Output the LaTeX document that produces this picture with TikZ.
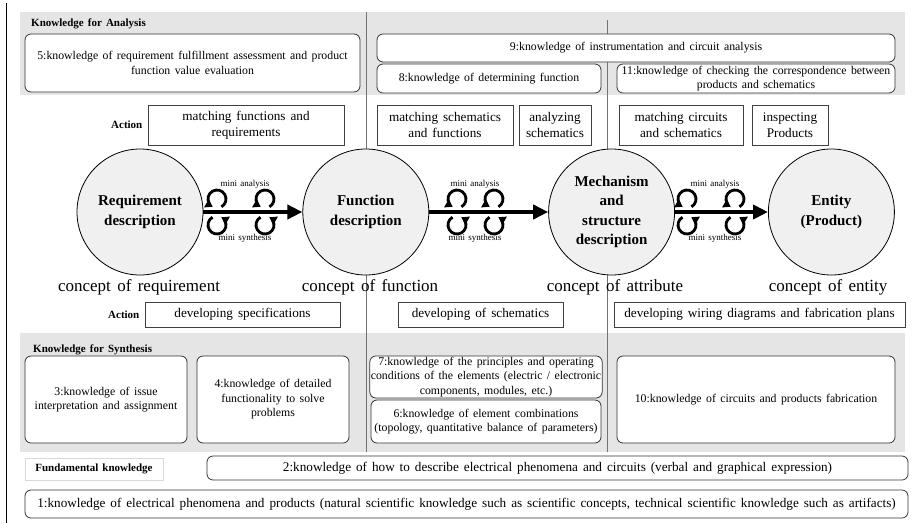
\documentclass[tikz,border=0pt]{standalone}
\usepackage{fontspec}
\setmainfont{Liberation Serif}[WordSpace=1.5]
\usetikzlibrary{positioning,arrows.meta}

\newcommand{\fsz}[2]{\fontsize{#1}{#2}\selectfont}

\tikzset{
band/.style={fill=black!10},
divider/.style={draw=black!55, line width=0.6pt},
knowbox/.style={draw=black!80, line width=0.8pt, rounded corners=6pt, fill=white, align=center, inner sep=1pt, font=\fsz{11.8}{14.5}},
basebox/.style={knowbox, font=\fsz{13.2}{16}},
actbox/.style={draw=black!75, line width=0.9pt, fill=white, align=center, inner sep=1pt, font=\fsz{13.2}{16}},
conceptnode/.style={circle, draw=black, line width=0.8pt, fill=black!6, minimum size=126pt, inner sep=0pt, align=center, font=\bfseries\fsz{15}{19.5}},
heading/.style={font=\bfseries\fsz{11}{13}, inner sep=0pt},
conceptlabel/.style={font=\fsz{17}{20}, inner sep=0pt},
minilabel/.style={font=\fsz{9}{10}, inner sep=0pt},
mainarrow/.style={line width=4pt, -{Triangle[length=15pt,width=14pt]}},
loopline/.style={line width=2.8pt, -{Triangle[length=7pt,width=9pt]}},
minicycle/.pic={
\draw[loopline] (4.5,5.21) arc[start angle=-60, end angle=240, x radius=9, y radius=9];
\draw[loopline] (-4.5,-5.21) arc[start angle=120, end angle=420, x radius=9, y radius=9];
}
}

\begin{document}
\begin{tikzpicture}[x=1pt,y=1pt]
\useasboundingbox (0,0) rectangle (913,-523);
\fill[white] (0,0) rectangle (913,-523);
\draw[line width=1pt] (6,-3) -- (6,-523);

% knowledge bands and dividers
\fill[band] (20,-12) rectangle (905,-95);
\fill[band] (20,-333) rectangle (905,-452);
\draw[divider] (366,-12) -- (366,-452);
\draw[divider] (607,-20) -- (607,-452);

% analysis
\node[heading, anchor=west] (ana) at (31,-24) {Knowledge for Analysis};
\node[knowbox, minimum width=335pt, minimum height=58pt] (k5) at (192.5,-63) {5:knowledge of requirement fulfillment assessment and product\\function value evaluation};
\node[knowbox, minimum width=518pt, minimum height=28pt] (k9) at (636,-48) {9:knowledge of instrumentation and circuit analysis};
\node[knowbox, minimum width=224pt, minimum height=29pt] (k8) at (489,-78.5) {8:knowledge of determining function};
\node[knowbox, minimum width=278pt, minimum height=29pt] (k11) at (756,-78.5) {11:knowledge of checking the correspondence between\\products and schematics};

% actions (upper row)
\node[actbox, minimum width=196pt, minimum height=40pt] (act1) at (246,-125) {matching functions and\\requirements};
\node[heading, left=5pt of act1] (actlab1) {Action};
\node[actbox, minimum width=136pt, minimum height=40pt] (act2) at (445,-125) {matching schematics\\and functions};
\node[actbox, minimum width=72pt, minimum height=40pt] (act3) at (555,-125) {analyzing\\schematics};
\node[actbox, minimum width=124pt, minimum height=40pt] (act4) at (681,-125) {matching circuits\\and schematics};
\node[actbox, minimum width=76pt, minimum height=40pt] (act5) at (790,-125) {inspecting\\Products};

% descriptions
\node[conceptnode] (req) at (140,-212) {Requirement\\description};
\node[conceptnode, right=99pt of req] (fun) {Function\\description};
\node[conceptnode, right=119pt of fun] (mech) {Mechanism\\and\\structure\\description};
\node[conceptnode, right=93pt of mech] (ent) {Entity\\(Product)};

\draw[mainarrow] (req) -- (fun);
\draw[mainarrow] (fun) -- (mech);
\draw[mainarrow] (mech) -- (ent);

\foreach \cx in {217,265,457,494,687,735}
  \pic at (\cx,-212) {minicycle};

\node[minilabel] (ma1) at (245,-184) {mini analysis};
\node[minilabel] (ms1) at (245,-238) {mini synthesis};
\node[minilabel] (ma2) at (475,-184) {mini analysis};
\node[minilabel] (ms2) at (475,-238) {mini synthesis};
\node[minilabel] (ma3) at (715,-184) {mini analysis};
\node[minilabel] (ms3) at (715,-238) {mini synthesis};

\node[conceptlabel] (creq) at (139,-287) {concept of requirement};
\node[conceptlabel] (cfun) at (370,-287) {concept of function};
\node[conceptlabel] (catt) at (615,-287) {concept of attribute};
\node[conceptlabel] (cent) at (828,-287) {concept of entity};

% actions (lower row)
\node[actbox, minimum width=195pt, minimum height=25pt] (dev1) at (242.5,-314.5) {developing specifications};
\node[heading, left=5pt of dev1] (actlab2) {Action};
\node[actbox, minimum width=165pt, minimum height=25pt] (dev2) at (480.5,-314.5) {developing of schematics};
\node[actbox, minimum width=291pt, minimum height=25pt] (dev3) at (759.5,-314.5) {developing wiring diagrams and fabrication plans};

% synthesis
\node[heading, anchor=west] (syn) at (33,-350) {Knowledge for Synthesis};
\node[knowbox, minimum width=162pt, minimum height=87pt] (k3) at (106,-399.5) {3:knowledge of issue\\interpretation and assignment};
\node[knowbox, minimum width=152pt, minimum height=87pt] (k4) at (273,-399.5) {4:knowledge of detailed\\functionality to solve\\problems};
\node[knowbox, minimum width=230pt, minimum height=42pt] (k7) at (486,-377) {7:knowledge of the principles and operating\\conditions of the elements (electric / electronic\\components, modules, etc.)};
\node[knowbox, minimum width=230pt, minimum height=43pt] (k6) at (486,-421.5) {6:knowledge of element combinations\\(topology, quantitative balance of parameters)};
\node[knowbox, minimum width=278pt, minimum height=87pt] (k10) at (756,-399.5) {10:knowledge of circuits and products fabrication};

% fundamental
\node[heading, draw=black!15, fill=white, minimum width=138pt, minimum height=22pt] (fund) at (94,-469) {Fundamental knowledge};
\node[basebox, minimum width=701pt, minimum height=24pt] (k2) at (557.5,-468) {2:knowledge of how to describe electrical phenomena and circuits (verbal and graphical expression)};
\node[basebox, minimum width=883pt, minimum height=28pt] (k1) at (466.5,-504) {1:knowledge of electrical phenomena and products (natural scientific knowledge such as scientific concepts, technical scientific knowledge such as artifacts)};
\end{tikzpicture}
\end{document}
